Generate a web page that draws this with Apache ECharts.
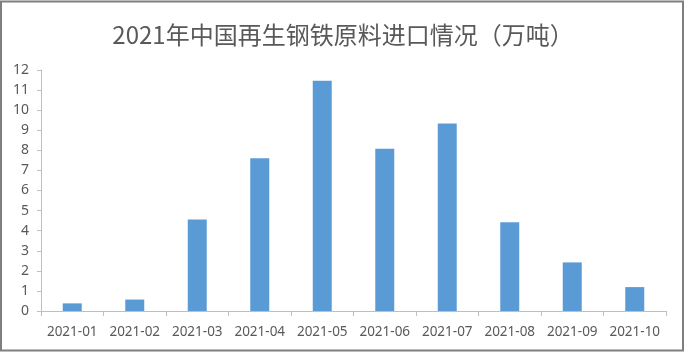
<!DOCTYPE html>
<html>
<head>
<meta charset="utf-8">
<script src="https://cdn.jsdelivr.net/npm/echarts@6/dist/echarts.min.js"></script>
<style>
  html, body { margin: 0; padding: 0; background: #fff; }
  #chart { width: 685px; height: 354px; }
</style>
</head>
<body>
<div id="chart"></div>
<script>
// 月份
var months = ['2021-01', '2021-02', '2021-03', '2021-04', '2021-05',
              '2021-06', '2021-07', '2021-08', '2021-09', '2021-10'];
// 进口量（万吨）
var imports = [0.38, 0.57, 4.55, 7.6, 11.47, 8.08, 9.33, 4.42, 2.42, 1.19];

var chart = echarts.init(document.getElementById('chart'));
var grey = '#595959';
var lineGrey = '#bfbfbf';

chart.setOption({
  animation: false,
  title: {
    text: '2021年中国再生钢铁原料进口情况（万吨）',
    left: 338,
    textAlign: 'center',
    top: 18,
    textStyle: {
      color: grey,
      fontSize: 24,
      fontWeight: 'normal',
      fontFamily: '"Noto Sans CJK SC", sans-serif'
    }
  },
  graphic: [{
    type: 'rect',
    shape: { x: 1, y: 1.5, width: 682, height: 349 },
    style: { fill: 'none', stroke: '#7f7f7f', lineWidth: 2 },
    silent: true
  }],
  grid: { left: 41, right: 19, top: 70, bottom: 43 },
  xAxis: {
    type: 'category',
    data: months,
    boundaryGap: true,
    axisLine: { lineStyle: { color: lineGrey } },
    axisTick: { show: true, length: 5, alignWithLabel: false, lineStyle: { color: lineGrey } },
    axisLabel: { interval: 0, color: grey, fontSize: 13.5, margin: 14, fontFamily: '"Noto Sans", sans-serif' }
  },
  yAxis: {
    type: 'value',
    min: 0,
    max: 12,
    interval: 1,
    splitLine: { show: false },
    axisLine: { show: true, lineStyle: { color: lineGrey } },
    axisTick: { show: true, length: 4, lineStyle: { color: lineGrey } },
    axisLabel: { color: grey, fontSize: 14, margin: 12, fontFamily: '"Noto Sans", sans-serif' }
  },
  series: [{
    type: 'bar',
    data: imports,
    barWidth: 19,
    itemStyle: { color: '#5b9bd5' }
  }]
});
</script>
</body>
</html>
